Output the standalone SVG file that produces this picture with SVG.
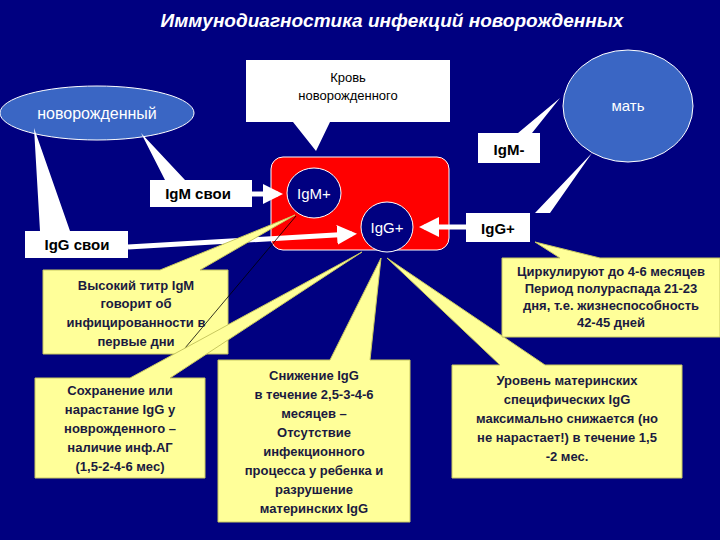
<svg xmlns="http://www.w3.org/2000/svg" width="720" height="540" viewBox="0 0 720 540">
<style>
text{font-family:"Liberation Sans",Arial,sans-serif}
.w{fill:#fff}
.wt{fill:#000;font-size:13px;text-anchor:middle}
.lb{fill:#000;font-size:15px;font-weight:bold;text-anchor:middle}
.y{fill:#ffff99;stroke:#c8c860;stroke-width:1}
.yt{fill:#1a1a40;font-size:13px;font-weight:bold;text-anchor:middle}
.ar{stroke:#fff;stroke-width:5;fill:none}
</style>
<defs><marker id="ah" markerWidth="4" markerHeight="4" refX="3" refY="2" orient="auto"><path d="M0,0L4,2L0,4z" fill="#fff"/></marker></defs>
<rect width="720" height="540" fill="#000080"/>
<text x="392" y="27" fill="#fff" font-size="19" font-weight="bold" font-style="italic" text-anchor="middle">Иммунодиагностика инфекций новорожденных</text>
<g id="newborn"><ellipse cx="97" cy="113" rx="97" ry="27" fill="#3a66c4" stroke="#fff" stroke-width="1"/><text x="97" y="119" class="w" font-size="16" text-anchor="middle">новорожденный</text></g>
<g id="mother"><ellipse cx="628" cy="106" rx="65" ry="56" fill="#3a66c4" stroke="#fff" stroke-width="1"/><text x="628" y="111" class="w" font-size="15" text-anchor="middle">мать</text></g>
<g id="blood"><path d="M246,60H450V122H330L316,151L293,122H246Z" fill="#fff"/><text x="348" y="82" class="wt">Кровь</text><text x="348" y="100" class="wt">новорожденного</text></g>
<g id="igm-minus"><path d="M478,133H518L560,98L532,133H540V163H478Z" fill="#fff"/><text x="509" y="155" class="lb">IgM-</text></g>
<g id="igm-own"><path d="M150,180H165L141,133L185,180H252V207H150Z" fill="#fff"/><text x="198" y="199" class="lb">IgM свои</text></g>
<g id="igg-own"><path d="M25,231H40L34,128L70,231H128V258H25Z" fill="#fff"/><text x="77" y="250" class="lb">IgG свои</text></g>
<g id="igg-plus-box"><path d="M466,213H535L592,153L550,213H530V242H466Z" fill="#fff"/><text x="498" y="234" class="lb">IgG+</text></g>
<g id="blood-box"><rect x="271" y="157" width="178" height="93" rx="12" fill="#ff0000" stroke="#fff" stroke-width="1"/></g>
<g id="connectors">
<line x1="252" y1="194" x2="278" y2="194" class="ar" marker-end="url(#ah)"/>
<line x1="128" y1="247" x2="352" y2="234" class="ar" marker-end="url(#ah)"/>
<line x1="466" y1="227" x2="424" y2="227" class="ar" marker-end="url(#ah)"/>
</g>
<g id="igm-plus"><ellipse cx="314" cy="193" rx="27" ry="25" fill="#000080" stroke="#fff" stroke-width="1"/><text x="314" y="199" class="w" font-size="15" text-anchor="middle">IgM+</text></g>
<g id="igg-plus"><ellipse cx="387" cy="227" rx="26" ry="25" fill="#000080" stroke="#fff" stroke-width="1"/><text x="387" y="233" class="w" font-size="15" text-anchor="middle">IgG+</text></g>
<g id="c1"><path d="M43,270H160L295,215L200,270H228V354H43Z" class="y"/><line x1="296" y1="216" x2="180" y2="354" stroke="#000" stroke-width="0.8"/><text x="136" y="290" class="yt">Высокий титр IgM</text><text x="136" y="308" class="yt">говорит об</text><text x="136" y="327" class="yt">инфицированности в</text><text x="136" y="346" class="yt">первые дни</text></g>
<g id="c2"><path d="M35,378H130L362,252L170,378H205V478H35Z" class="y"/><text x="120" y="395" class="yt">Сохранение или</text><text x="120" y="414" class="yt">нарастание IgG у</text><text x="120" y="433" class="yt">новрожденного –</text><text x="120" y="452" class="yt">наличие инф.АГ</text><text x="120" y="471" class="yt">(1,5-2-4-6 мес)</text></g>
<g id="c3"><path d="M218,360H330L381,258L370,360H410V522H218Z" class="y"/><text x="314" y="380" class="yt">Снижение IgG</text><text x="314" y="399" class="yt">в течение 2,5-3-4-6</text><text x="314" y="418" class="yt">месяцев –</text><text x="314" y="437" class="yt">Отсутствие</text><text x="314" y="456" class="yt">инфекционного</text><text x="314" y="475" class="yt">процесса у ребенка и</text><text x="314" y="494" class="yt">разрушение</text><text x="314" y="513" class="yt">материнских IgG</text></g>
<g id="c4"><path d="M452,365H500L387,258L545,365H682V478H452Z" class="y"/><text x="567" y="385" class="yt">Уровень материнских</text><text x="567" y="404" class="yt">специфических IgG</text><text x="567" y="423" class="yt">максимально снижается (но</text><text x="567" y="442" class="yt">не нарастает!) в течение 1,5</text><text x="567" y="461" class="yt">-2 мес.</text></g>
<g id="c5"><path d="M502,258H560L535,242L600,258H720V337H502Z" class="y"/><text x="611" y="276" class="yt" font-size="11.5">Циркулируют до 4-6 месяцев</text><text x="611" y="293" class="yt" font-size="11.5">Период полураспада 21-23</text><text x="611" y="310" class="yt" font-size="11.5">дня, т.е. жизнеспособность</text><text x="611" y="327" class="yt" font-size="11.5">42-45 дней</text></g>
</svg>
